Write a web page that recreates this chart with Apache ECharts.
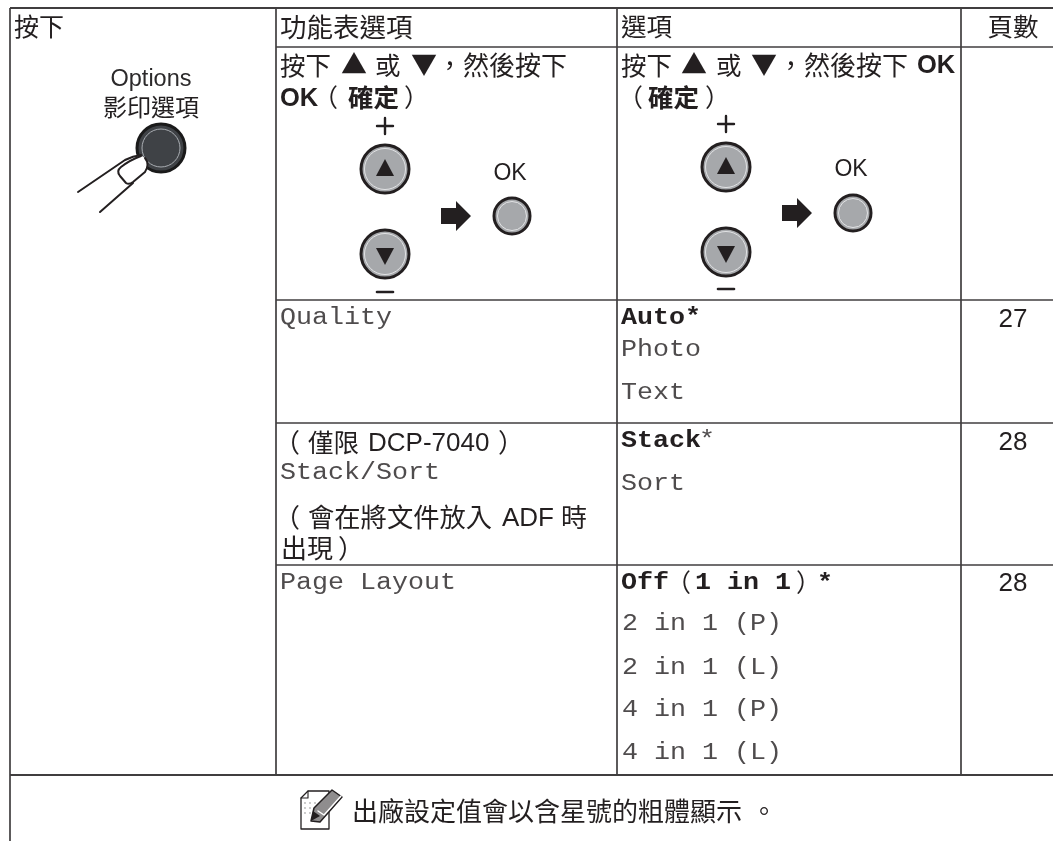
<!DOCTYPE html>
<html><head><meta charset="utf-8">
<style>html,body{margin:0;padding:0;background:#fff}#c{width:1053px;height:841px}</style>
<script src="https://cdn.jsdelivr.net/npm/echarts@6/dist/echarts.min.js"></script>
</head><body><div id="c"></div>
<script>
var headers = ['按下', '功能表選項', '選項', '頁數'];
var buttonLabels = ['Options', '影印選項'];
var instructionWords = ['按下', '▲', '或', '▼', '，', '然後按下', 'OK', '（', '確定', '）'];
var stackNotes = ['（', '僅限', 'DCP-7040', '）', '會在將文件放入', 'ADF', '時', '出現'];
var menuItems = ['Quality', 'Stack/Sort', 'Page Layout'];
var qualityOptions = ['Auto*', 'Photo', 'Text'];
var stackOptions = ['Stack', '*', 'Sort'];
var layoutOptions = ['Off', '（', '1 in 1', '）', '*', '2 in 1 (P)', '2 in 1 (L)', '4 in 1 (P)', '4 in 1 (L)'];
var pageNumbers = ['27', '28', '28'];
var footerNote = ['出廠設定值會以含星號的粗體顯示', '。'];

var SANS = '"Liberation Sans","Noto Sans CJK TC",sans-serif';
var MONO = '"Liberation Mono",monospace';
var CJK = '"Noto Sans CJK TC",sans-serif';
var INK = '#231f20';
var g = [];

function line(x1, y1, x2, y2, w, c) {
  g.push({type:'line', shape:{x1:x1,y1:y1,x2:x2,y2:y2}, style:{stroke:c||'#403e3f', lineWidth:w||1.7}});
}
function txt(s, x, y, size, opt) {
  opt = opt || {};
  g.push({type:'text', x:x, y:y, scaleX:opt.sx||1, style:{
    text:s, x:0, y:0, fontSize:size, fontFamily:opt.font||SANS, fontWeight:opt.bold?'bold':'normal',
    fill:opt.fill||INK, align:opt.align||'left', verticalAlign:'middle'
  }});
}
function cjk(s, x, y, size, bold) { txt(s, x, y, size||26, {font:CJK, bold:bold}); }
function mono(s, x, y, bold) {
  txt(s, x, y, 23, {font:MONO, sx:1.16, bold:bold, fill:bold?INK:'#4f4c4d'});
}
function circle(cx, cy, r, fill, stroke, w) {
  g.push({type:'circle', shape:{cx:cx,cy:cy,r:r}, style:{fill:fill||'none', stroke:stroke||'none', lineWidth:w||0}});
}
function path(d, fill, stroke, w) {
  g.push({type:'path', shape:{pathData:d},
    style:{fill:fill||'none', stroke:stroke||'none', lineWidth:w||0, lineJoin:'round', lineCap:'round'}});
}
function poly(points, fill) {
  g.push({type:'polygon', shape:{points:points}, style:{fill:fill}});
}

/* table rules */
line(10, 8, 1053, 8, 1.9);
line(10, 775, 1053, 775, 1.9);
[47, 300, 423, 565].forEach(function(y){ line(276, y, 1053, y); });
line(10, 8, 10, 841);
[276, 617, 961].forEach(function(x){ line(x, 8, x, 775); });

/* header */
txt(headers[0], 14, 26, 25, {font:CJK});
txt(headers[1], 280, 27, 26.5, {font:CJK});
txt(headers[2], 621, 26, 25.5, {font:CJK});
txt(headers[3], 1013, 26, 25.5, {font:CJK, align:'center'});

/* options button with finger */
txt(buttonLabels[0], 151, 80, 23.5, {align:'center', fill:'#2c2a2b'});
txt(buttonLabels[1], 151, 107, 24, {align:'center', font:CJK});
circle(161, 148, 24, '#3f4246', '#1a1a1a', 3);
circle(161, 148, 19, '#3f4246', '#a9adb2', 1);
path('M78,192 L125,160 Q133,156 141,155 Q150,162 146,171 L100,212 Z', '#fff');
path('M78,192 L125,160 Q133,156 141,155', 'none', INK, 2);
path('M100,212 L133,183', 'none', INK, 2);
path('M141,156 Q130,160 121,167 Q116,171 120,176 L126,183 Q129,185 133,182 L145,172 Q150,164 145,158', '#fff', INK, 2);

/* instruction text, menu column */
var w = instructionWords;
cjk(w[0], 280, 65, 25.5); cjk(w[1], 341, 64, 26); cjk(w[2], 375, 65, 25.5);
cjk(w[3], 411, 64, 26); cjk(w[4], 437, 65, 25.5); cjk(w[5], 463, 65, 26);
txt(w[6], 280, 99, 25.5, {bold:true});
cjk(w[7], 313, 97, 25); cjk(w[8], 348, 97, 25.5, true); cjk(w[9], 404, 97, 25);

/* instruction text, option column */
cjk(w[0], 621, 65, 25.5); cjk(w[1], 681, 64, 26); cjk(w[2], 716, 65, 25.5);
cjk(w[3], 751, 64, 26); cjk(w[4], 778, 65, 25.5); cjk(w[5], 804, 65, 26);
txt(w[6], 917, 66, 25.5, {bold:true});
cjk(w[7], 618, 97, 25); cjk(w[8], 648, 97, 25.5, true); cjk(w[9], 705, 97, 25);

/* navigation icon */
function navIcon(ux, uy, dy, plusY, minusY, okx, oky, okLabelX, okLabelY, ax) {
  path('M'+(ux-8)+','+plusY+' H'+(ux+8)+' M'+ux+','+(plusY-8)+' V'+(plusY+8), 'none', INK, 2.4);
  path('M'+(ux-8)+','+minusY+' H'+(ux+8), 'none', INK, 2.6);
  [uy, dy].forEach(function(cy){
    circle(ux, cy, 24, '#a6a8ab', INK, 3);
    circle(ux, cy, 20.5, '#a6a8ab', '#e2e3e5', 1);
  });
  poly([[ux,uy-10],[ux+9,uy+7],[ux-9,uy+7]], INK);
  poly([[ux,dy+11],[ux+9,dy-6],[ux-9,dy-6]], INK);
  circle(okx, oky, 18, '#a6a8ab', INK, 3);
  circle(okx, oky, 14.5, '#a6a8ab', '#e2e3e5', 1);
  txt('OK', okLabelX, okLabelY, 23, {align:'center'});
  poly([[ax,oky-8],[ax+15,oky-8],[ax+15,oky-15],[ax+30,oky],[ax+15,oky+15],[ax+15,oky+8],[ax,oky+8]], INK);
}
navIcon(385, 169, 254, 126, 292, 512, 216, 510, 174, 441);
navIcon(726, 167, 252, 124, 289, 853, 213, 851, 170, 782);

/* quality row */
mono(menuItems[0], 280, 318);
mono(qualityOptions[0], 621, 318, true);
mono(qualityOptions[1], 621, 350);
mono(qualityOptions[2], 621, 393);
txt(pageNumbers[0], 1013, 320, 26, {align:'center'});

/* stack row */
cjk(stackNotes[0], 274, 442, 26); cjk(stackNotes[1], 308, 442, 25.5);
txt(stackNotes[2], 368, 444, 26); cjk(stackNotes[3], 498, 442, 26);
mono(menuItems[1], 280, 473);
cjk(stackNotes[0], 274, 517, 26); cjk(stackNotes[4], 308, 517, 26.3);
txt(stackNotes[5], 502, 519, 26); cjk(stackNotes[6], 561, 517, 26);
cjk(stackNotes[7], 281, 548, 26); cjk(stackNotes[3], 338, 548, 26);
mono(stackOptions[0], 621, 441, true);
mono(stackOptions[1], 699, 441);
mono(stackOptions[2], 621, 484);
txt(pageNumbers[1], 1013, 443, 26, {align:'center'});

/* layout row */
mono(menuItems[2], 280, 583);
mono(layoutOptions[0], 621, 583, true);
cjk(layoutOptions[1], 666, 582, 25);
mono(layoutOptions[2], 695, 583, true);
cjk(layoutOptions[3], 796, 582, 25);
mono(layoutOptions[4], 817, 584, true);
mono(layoutOptions[5], 622, 624);
mono(layoutOptions[6], 622, 668);
mono(layoutOptions[7], 622, 710);
mono(layoutOptions[8], 622, 753);
txt(pageNumbers[2], 1013, 584, 26, {align:'center'});

/* footer note with pencil icon */
path('M308,791 H329 V829 H301 V798 Z', '#fff', INK, 1.3);
path('M308,791 V798 H301', 'none', INK, 1.1);
[[305,803],[305,808],[305,813],[310,803],[310,808],[310,813],[315,803],[315,808]].forEach(function(p){
  circle(p[0], p[1], 0.9, '#b5b5b5');
});
path('M332,790 L342,797 L320,822 L311,821 L314,808 Z', '#8f8d8e', INK, 1.5);
path('M318,811 L324,815 L341,796', 'none', '#fff', 1.4);
poly([[311,821],[313,811],[320,816]], INK);
cjk(footerNote[0], 352, 811, 26);
cjk(footerNote[1], 751, 811, 26);

var chart = echarts.init(document.getElementById('c'), null, {renderer:'canvas', width:1053, height:841});
chart.setOption({
  backgroundColor:'#fff', animation:false,
  series:[{type:'custom', coordinateSystem:'none', silent:true, data:[[0]],
    renderItem:function(){ return {type:'group', children:g}; }}]
});
</script></body></html>
